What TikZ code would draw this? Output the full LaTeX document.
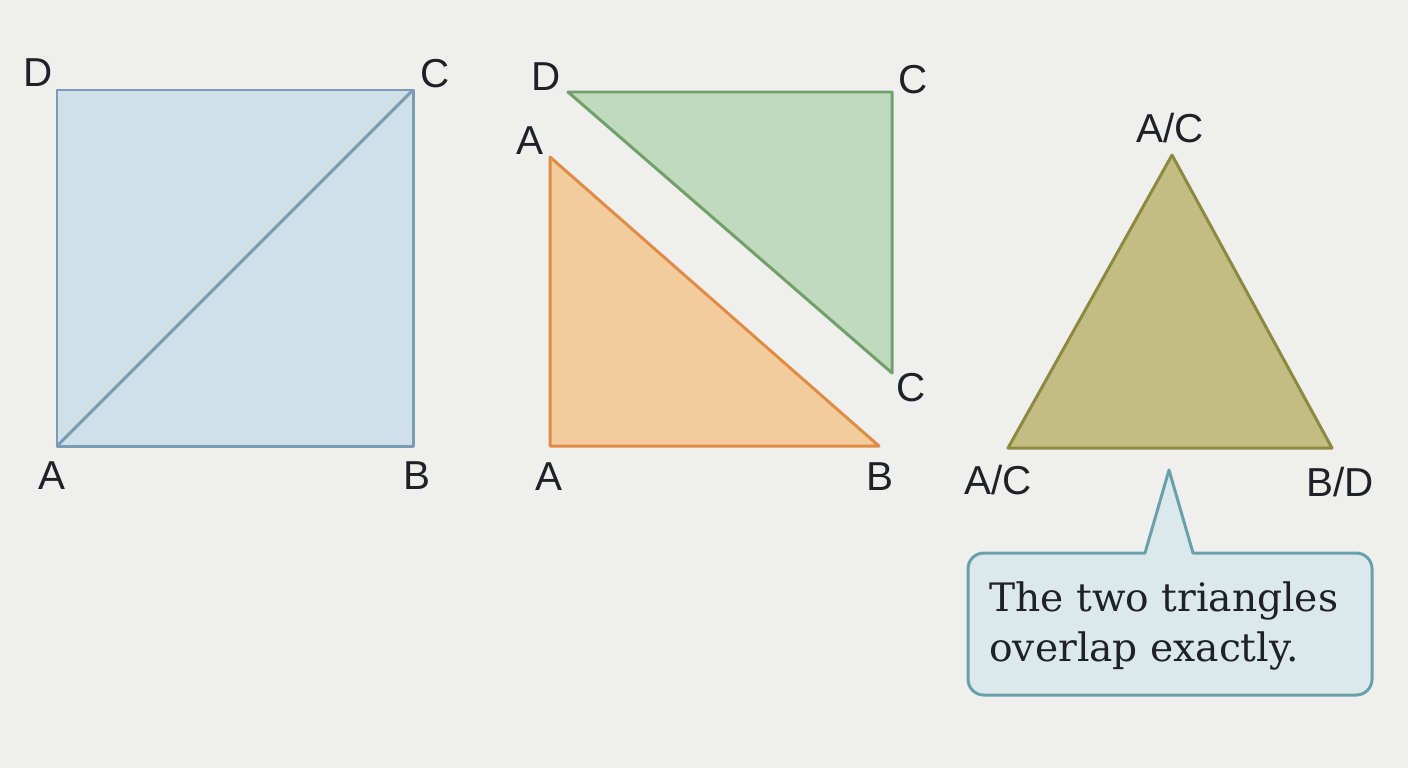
\documentclass[tikz,border=0pt]{standalone}
\usepackage{fontspec}
\setmainfont{Liberation Sans}
\newfontfamily\notefont{DejaVu Serif}
\definecolor{bgcol}{HTML}{EFEFEE}
\definecolor{sqfill}{HTML}{CFE0E8}
\definecolor{sqline}{HTML}{7A9DB5}
\definecolor{grfill}{HTML}{BFDABC}
\definecolor{grline}{HTML}{72A06A}
\definecolor{orfill}{HTML}{F3CC9E}
\definecolor{orline}{HTML}{E08C45}
\definecolor{olfill}{HTML}{C2BD82}
\definecolor{olline}{HTML}{8C8A3E}
\definecolor{notefill}{HTML}{DBE9EA}
\definecolor{noteline}{HTML}{6AA0AA}
\definecolor{txt}{HTML}{1E2126}
\begin{document}
\begin{tikzpicture}[x=0.02cm,y=-0.02cm,
    lbl/.style={text=txt,font=\fontsize{23}{27}\selectfont,inner sep=0pt},
    piece/.style={line width=1.7pt,line join=round}]
		\useasboundingbox[fill=bgcol] (0,0) rectangle (1408,768);
		% square ABCD with diagonal AC
		\coordinate (sA) at (57,446); \coordinate (sB) at (413,446);
		\coordinate (sC) at (413,90); \coordinate (sD) at (57,90);
		\draw[piece,draw=sqline,fill=sqfill] (sA)--(sB)--(sC)--(sD)--cycle;
		\draw[piece,draw=sqline] (sA)--(sC);
		\node[lbl] (lsD) at (38,73) {D};
		\node[lbl] (lsC) at (435,74) {C};
		\node[lbl] (lsA) at (52,476) {A};
		\node[lbl] (lsB) at (417,476) {B};
		% the two halves pulled apart
		\coordinate (gD) at (568,92); \coordinate (gC) at (892,92); \coordinate (gCC) at (892,373);
		\draw[piece,draw=grline,fill=grfill] (gD)--(gC)--(gCC)--cycle;
		\coordinate (oA) at (550,157); \coordinate (oAA) at (550,446); \coordinate (oB) at (879,446);
		\draw[piece,draw=orline,fill=orfill] (oA)--(oAA)--(oB)--cycle;
		\node[lbl] (lgD) at (546,77) {D};
		\node[lbl] (lgC) at (913,80) {C};
		\node[lbl] (loA) at (530,141) {A};
		\node[lbl] (lgCC) at (911,388) {C};
		\node[lbl] (loAA) at (549,477) {A};
		\node[lbl] (loB) at (880,477) {B};
		% halves laid on top of each other
		\coordinate (tT) at (1172,155); \coordinate (tL) at (1008,448); \coordinate (tR) at (1332,448);
		\draw[piece,draw=olline,fill=olfill] (tT)--(tL)--(tR)--cycle;
		\node[lbl] (ltT) at (1170,128) {A/C};
		\node[lbl] (ltL) at (998,480) {A/C};
		\node[lbl] (ltR) at (1340,482) {B/D};
		% callout
		\coordinate (tip) at (1169,470);
		\draw[line width=1.7pt,draw=noteline,fill=notefill,line join=round]
		  (1145,553) -- (tip) -- (1193,553) [rounded corners=9pt] -- (1372,553) -- (1372,695)
		  -- (968,695) -- (968,553) [sharp corners] -- cycle;
		\node[anchor=west,align=left,text=txt,inner sep=0pt,
		  font=\notefont\fontsize{22.3}{28.5}\selectfont] (note) at (989,626)
		  {The two triangles\\overlap exactly.};
\end{tikzpicture}
\end{document}
